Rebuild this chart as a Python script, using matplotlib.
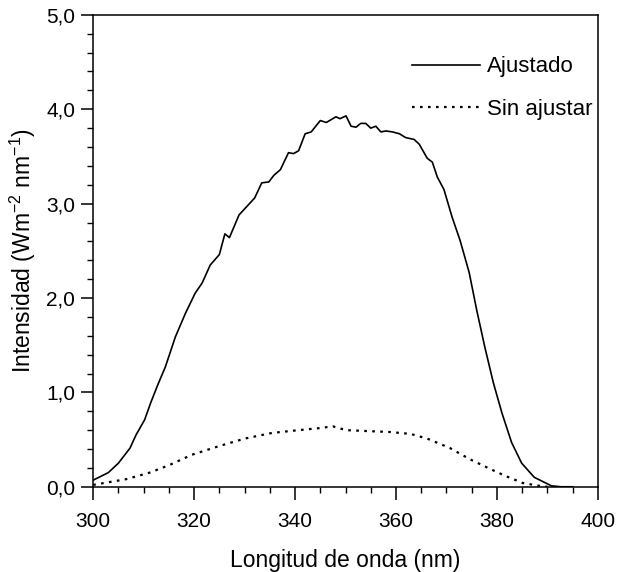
import matplotlib
matplotlib.use("Agg")
import matplotlib.pyplot as plt
from matplotlib.ticker import MultipleLocator, FixedLocator

plt.rcParams['font.family'] = ['Liberation Sans', 'DejaVu Sans']
plt.rcParams['mathtext.fontset'] = 'custom'
plt.rcParams['mathtext.rm'] = 'Liberation Sans'
plt.rcParams['mathtext.it'] = 'Liberation Sans:italic'

# Ajustado (adjusted spectrum)
ajustado_nm = [300, 303, 305, 307.3, 308.5, 310.2, 311.4, 312.8, 314.3, 316.3,
               318.3, 320.2, 321.6, 323.2, 325, 326.1, 327, 328.9, 332, 333.4,
               334.8, 335.8, 337.1, 338.7, 339.7, 340.7, 342, 343.2, 345, 346.2,
               348.1, 348.9, 350.1, 351.1, 352.1, 353, 354, 355, 356, 357,
               358, 359.3, 360.7, 361.9, 363.6, 364.6, 366.2, 367.2, 368.2, 369.5,
               371.1, 372.7, 374.5, 376, 377.6, 379.3, 381, 382.9, 384.9, 387.4,
               390.8, 392.7, 395]
ajustado_val = [0.07, 0.15, 0.25, 0.41, 0.55, 0.71, 0.89, 1.08, 1.27, 1.59,
                1.84, 2.05, 2.16, 2.35, 2.46, 2.68, 2.64, 2.88, 3.06, 3.22,
                3.23, 3.30, 3.36, 3.54, 3.53, 3.56, 3.74, 3.76, 3.88, 3.86,
                3.92, 3.90, 3.93, 3.82, 3.81, 3.85, 3.85, 3.80, 3.82, 3.76,
                3.77, 3.76, 3.74, 3.70, 3.68, 3.63, 3.48, 3.44, 3.28, 3.15,
                2.86, 2.61, 2.27, 1.87, 1.48, 1.10, 0.78, 0.47, 0.25, 0.10,
                0.01, 0.0, 0.0]

# Sin ajustar (unadjusted spectrum)
sin_nm = [300, 306.5, 311.2, 315.1, 319.6, 324.9, 330, 335.4, 340.7, 344.6,
          347.5, 350.1, 354.4, 358.9, 362.9, 366.2, 370.7, 374.7, 378.6, 381.9,
          385.1, 388.4, 390]
sin_val = [0.02, 0.08, 0.15, 0.23, 0.34, 0.43, 0.51, 0.57, 0.60, 0.62,
           0.64, 0.60, 0.59, 0.58, 0.56, 0.51, 0.41, 0.29, 0.19, 0.11,
           0.04, 0.01, 0.0]

x_ticks = [300, 320, 340, 360, 380, 400]
y_ticks = [0.0, 1.0, 2.0, 3.0, 4.0, 5.0]
y_tick_labels = ['0,0', '1,0', '2,0', '3,0', '4,0', '5,0']

fig = plt.figure(figsize=(6.17, 5.72), dpi=100)
ax = fig.add_axes([0.151, 0.149, 0.818, 0.825])

ax.plot(ajustado_nm, ajustado_val, color='black', linewidth=1.2, label='Ajustado')
ax.plot(sin_nm, sin_val, color='black', linewidth=1.6,
        linestyle=(0, (1.2, 2.4)), label='Sin ajustar')

ax.set_xlim(300, 400)
ax.set_ylim(0, 5)
ax.xaxis.set_major_locator(FixedLocator(x_ticks))
ax.xaxis.set_minor_locator(MultipleLocator(5))
ax.yaxis.set_major_locator(FixedLocator(y_ticks))
ax.set_yticklabels(y_tick_labels)
ax.yaxis.set_minor_locator(MultipleLocator(0.2))

ax.tick_params(which='major', direction='out', length=9, width=1.1,
               labelsize=15, top=False, right=False)
ax.tick_params(which='minor', direction='out', length=4, width=1.0,
               top=False, right=False)
ax.tick_params(axis='x', which='major', pad=9)
ax.tick_params(axis='y', which='major', pad=4)
for sp in ax.spines.values():
    sp.set_linewidth(1.1)

ax.set_xlabel('Longitud de onda (nm)', fontsize=16.5, labelpad=13)
ax.set_ylabel(r'Intensidad (Wm$^{-2}$ nm$^{-1}$)', fontsize=16.5, labelpad=6)

leg = ax.legend(loc='upper right', bbox_to_anchor=(0.99, 0.912),
                frameon=False, fontsize=16, borderpad=0, borderaxespad=0,
                handlelength=3.05, labelspacing=0.95, handletextpad=0.35)

fig.savefig('out.png', dpi=100)
